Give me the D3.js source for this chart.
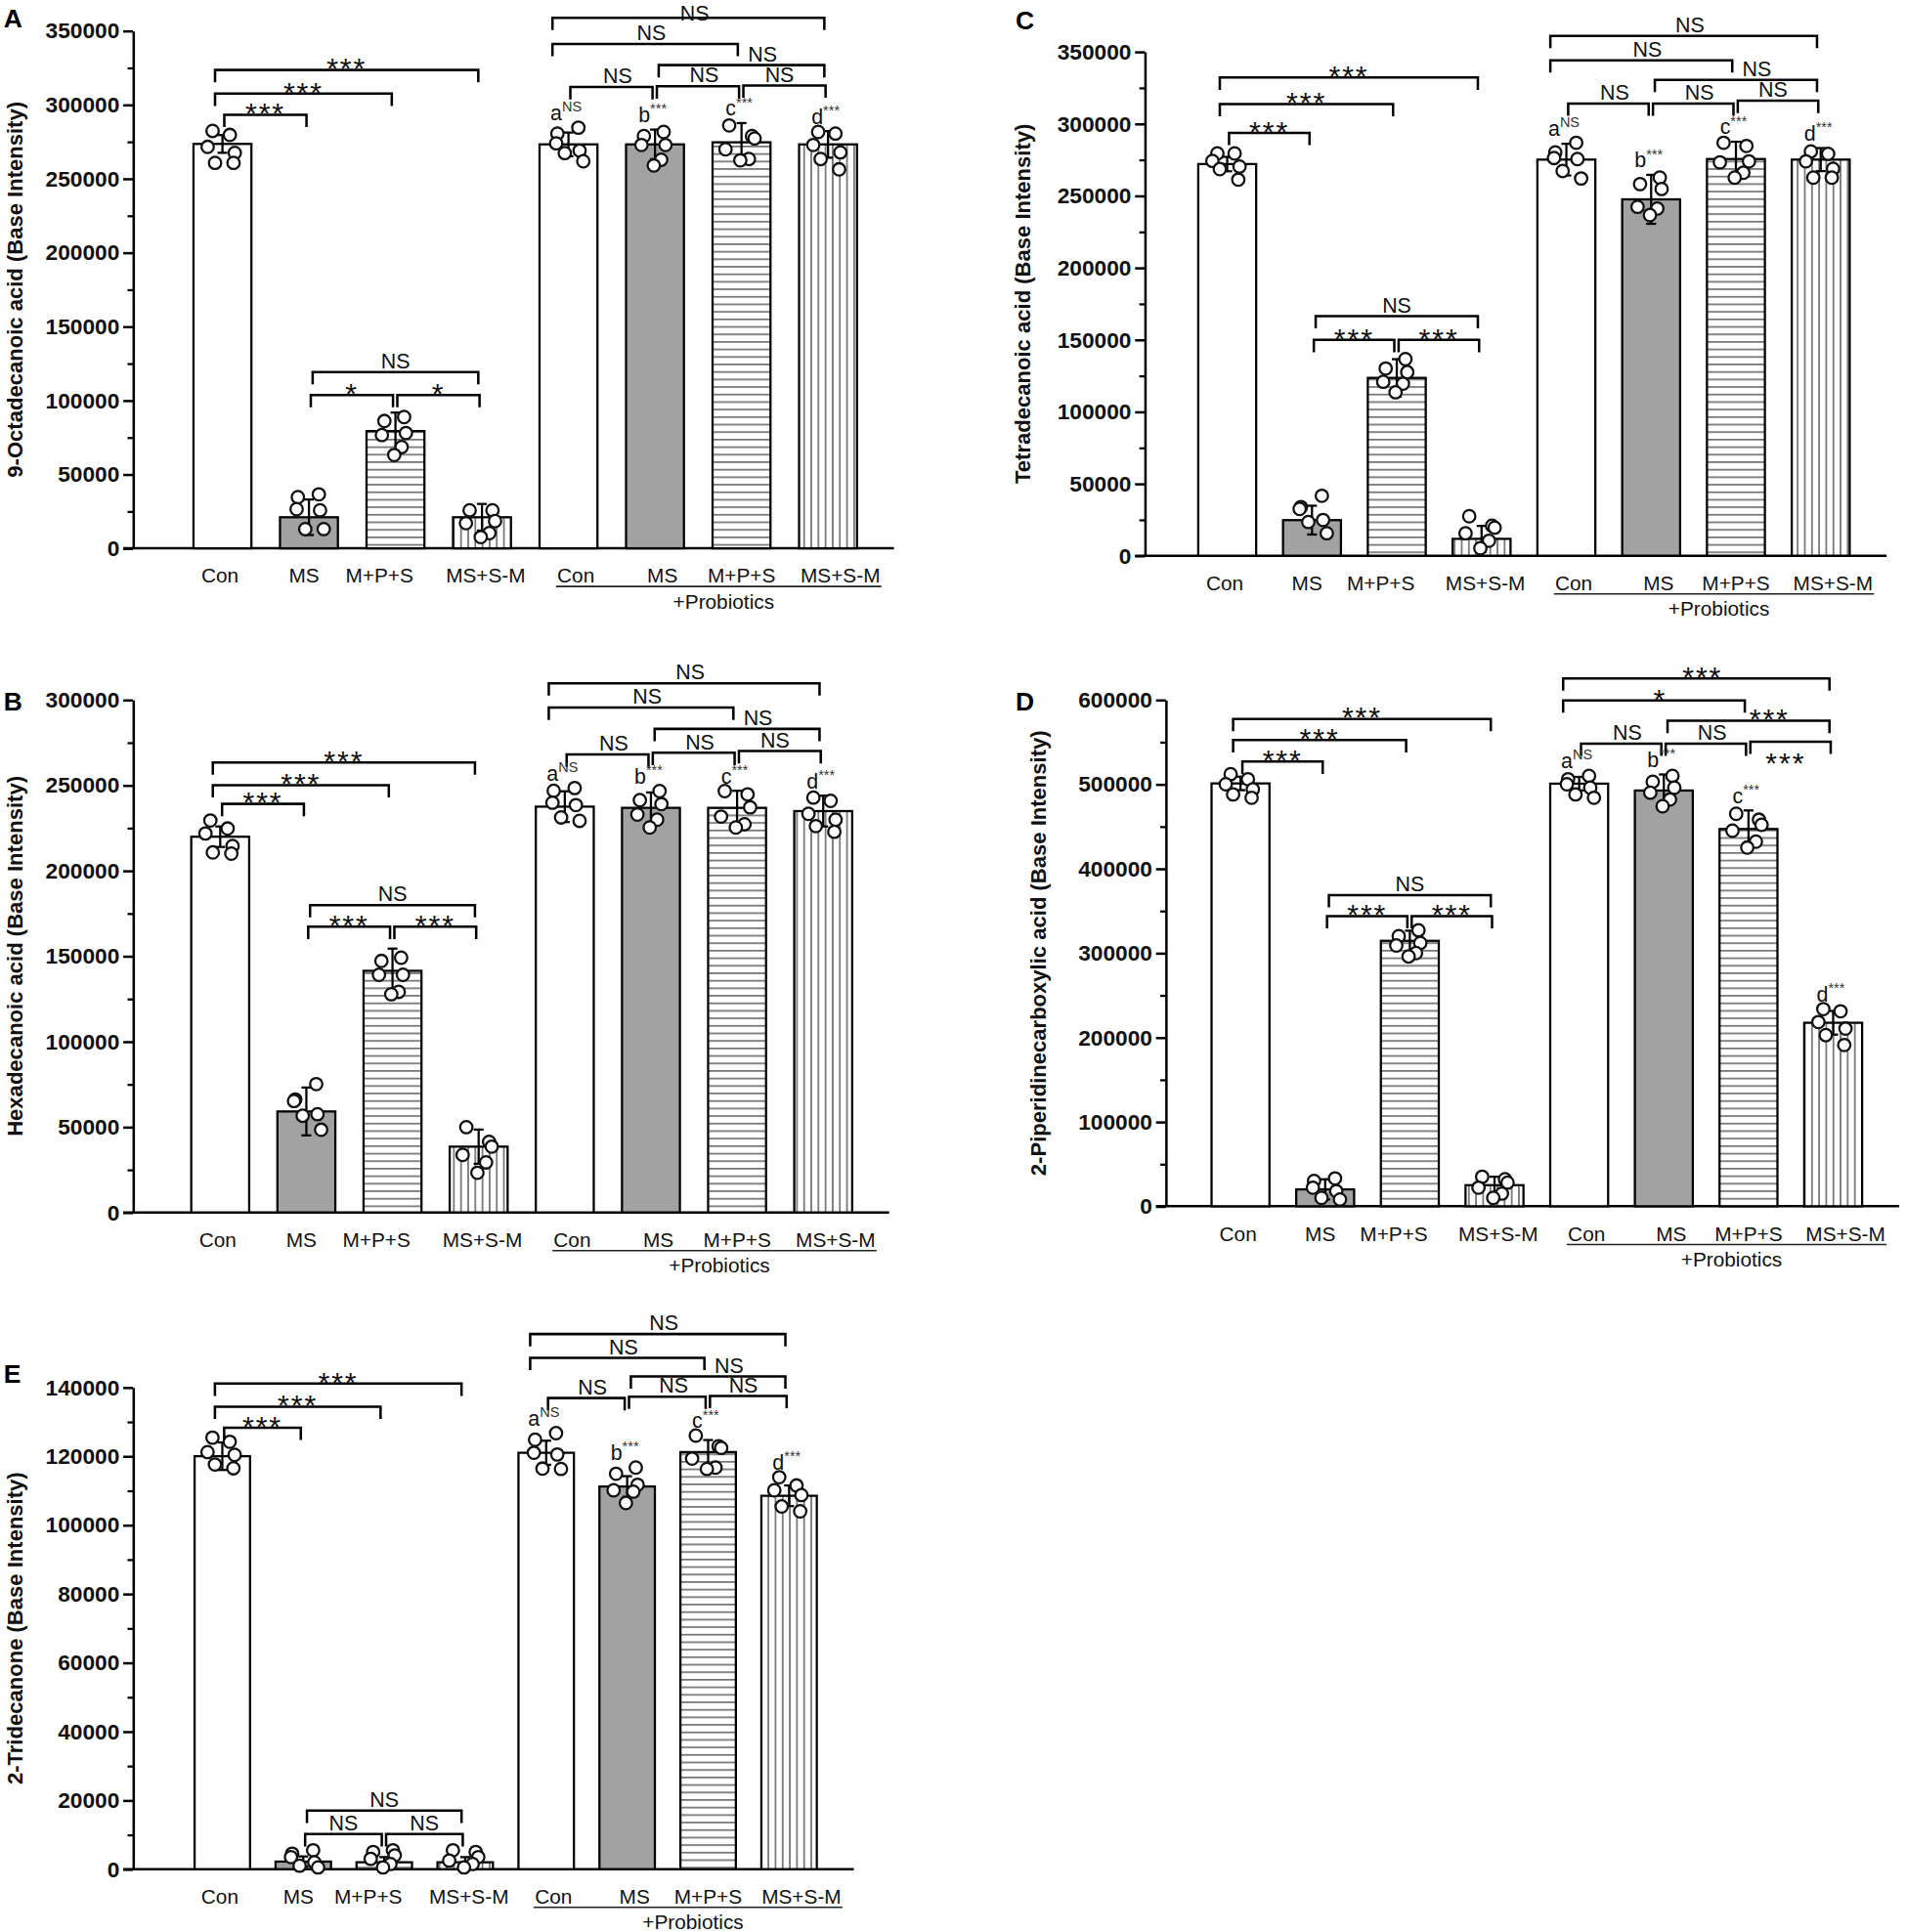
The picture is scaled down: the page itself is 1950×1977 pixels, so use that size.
<!DOCTYPE html>
<html><head><meta charset="utf-8">
<script src="https://cdn.jsdelivr.net/npm/d3@7"></script>
<style>
html,body{margin:0;padding:0;background:#fff;}
svg{display:block;}
</style></head><body>
<script>
// ================= DATA =================
const categories = ["Con","MS","M+P+S","MS+S-M","Con+Pro","MS+Pro","M+P+S+Pro","MS+S-M+Pro"];
const categoryLabels = ["Con","MS","M+P+S","MS+S-M","Con","MS","M+P+S","MS+S-M"];
const groupLabel = "+Probiotics";
const letterLabels = ["a","b","c","d"];
const letterSig = ["NS","***","***","***"];

// Panel A
const titleA = "9-Octadecanoic acid (Base Intensity)";
const ticksA = [0,50000,100000,150000,200000,250000,300000,350000];
const meansA = [273500,21000,79300,21000,273200,273200,274600,273200];
const sdA = [6000,12000,12500,9000,8000,10000,13000,9000];
const pointsA = [
  [282300,279600,271500,267400,260700,260700],
  [36500,34600,26500,25700,13000,13000],
  [88800,86100,78000,76600,68500,63100],
  [25700,25700,18400,17000,10300,7600],
  [284500,280500,273900,269000,267300,261800],
  [281600,278800,272800,272800,262800,258900],
  [286000,278800,277200,269900,263300,262400],
  [281600,280500,272800,267800,263300,256300]];
const bracketsA = [
  {a:0,b:1,v:293200,t:"***"},{a:0,b:2,v:307500,t:"***"},{a:0,b:3,v:323500,t:"***"},
  {a:1,b:3,v:119200,t:"NS"},{a:1,b:2,v:103700,t:"*"},{a:2,b:3,v:103700,t:"*"},
  {a:4,b:7,v:358800,t:"NS"},{a:4,b:6,v:341100,t:"NS"},{a:5,b:7,v:326800,t:"NS"},
  {a:4,b:5,v:312000,t:"NS"},{a:5,b:6,v:312500,t:"NS"},{a:6,b:7,v:313000,t:"NS"}];

// Panel B
const titleB = "Hexadecanoic acid (Base Intensity)";
const ticksB = [0,50000,100000,150000,200000,250000,300000];
const meansB = [219900,59100,141400,38500,237500,236800,236800,234900];
const sdB = [6000,14000,13000,10000,9000,9000,10000,9000];
const pointsB = [
  [229400,224700,221800,214500,210700,210000],
  [75100,66100,65200,57500,56600,48400],
  [149100,147200,139100,139100,129100,127700],
  [49900,41300,38500,33700,29300,23200],
  [248400,246800,239800,238400,231200,229200],
  [246600,241300,239000,232900,229900,225300],
  [246600,244700,237100,231700,227200,225300],
  [242800,240900,233300,229900,226100,222800]];
const bracketsB = [
  {a:0,b:1,v:239100,t:"***"},{a:0,b:2,v:250100,t:"***"},{a:0,b:3,v:263400,t:"***"},
  {a:1,b:3,v:179900,t:"NS"},{a:1,b:2,v:167200,t:"***"},{a:2,b:3,v:167200,t:"***"},
  {a:4,b:7,v:309700,t:"NS"},{a:4,b:6,v:295500,t:"NS"},{a:5,b:7,v:283000,t:"NS"},
  {a:4,b:5,v:268000,t:"NS"},{a:5,b:6,v:269000,t:"NS"},{a:6,b:7,v:270000,t:"NS"}];

// Panel C
const titleC = "Tetradecanoic acid (Base Intensity)";
const ticksC = [0,50000,100000,150000,200000,250000,300000,350000];
const meansC = [272000,24700,123500,11700,275100,247500,275500,275100];
const sdC = [5000,10000,13000,9000,11000,17000,12000,8000];
const pointsC = [
  [279400,279400,274200,270300,268500,261200],
  [41600,33800,32500,24800,23400,15600],
  [136500,130000,127500,120800,119500,113500],
  [27400,20800,19500,15600,10400,5200],
  [286800,280100,276200,275500,267200,262000],
  [262600,258100,254700,242300,241100,236600],
  [286800,284600,273900,273200,266000,262600],
  [280800,279100,273900,268700,262600,262600]];
const bracketsC = [
  {a:0,b:1,v:293700,t:"***"},{a:0,b:2,v:313700,t:"***"},{a:0,b:3,v:332100,t:"***"},
  {a:1,b:3,v:166400,t:"NS"},{a:1,b:2,v:149900,t:"***"},{a:2,b:3,v:149900,t:"***"},
  {a:4,b:7,v:361000,t:"NS"},{a:4,b:6,v:344100,t:"NS"},{a:5,b:7,v:330500,t:"NS"},
  {a:4,b:5,v:314000,t:"NS"},{a:5,b:6,v:314000,t:"NS"},{a:6,b:7,v:316000,t:"NS"}];

// Panel D
const titleD = "2-Piperidinecarboxylic acid (Base Intensity)";
const ticksD = [0,100000,200000,300000,400000,500000,600000];
const meansD = [501000,20000,314500,25000,500700,492600,447000,217400];
const sdD = [8000,12000,12000,10000,8000,19000,22000,14000];
const pointsD = [
  [512000,506000,500000,494000,488000,484000],
  [33000,30000,22000,18000,10000,8000],
  [327000,320000,312000,309000,300000,296000],
  [35000,32000,28000,22000,15000,10000],
  [510000,506000,500000,496000,488000,484000],
  [510000,503000,496000,490000,482000,474000],
  [465000,458000,452000,445000,432000,425000],
  [233600,231000,218300,210500,202800,191100]];
const bracketsD = [
  {a:0,b:1,v:526900,t:"***"},{a:0,b:2,v:552300,t:"***"},{a:0,b:3,v:577400,t:"***"},
  {a:1,b:3,v:368600,t:"NS"},{a:1,b:2,v:343800,t:"***"},{a:2,b:3,v:343800,t:"***"},
  {a:4,b:7,v:625400,t:"***"},{a:4,b:6,v:599300,t:"*"},{a:5,b:7,v:575200,t:"***"},
  {a:4,b:5,v:548200,t:"NS"},{a:5,b:6,v:548200,t:"NS"},{a:6,b:7,v:550400,t:"***",below:true}];

// Panel E
const titleE = "2-Tridecanone (Base Intensity)";
const ticksE = [0,20000,40000,60000,80000,100000,120000,140000];
const meansE = [120000,2200,2000,2000,121000,111200,121200,108500];
const sdE = [4000,1500,1500,1500,3500,3000,3500,3000];
const pointsE = [
  [125400,124200,121200,120400,117600,116500],
  [5500,4500,3500,2000,1000,500],
  [5500,5000,4000,3000,1500,500],
  [5500,5000,3500,2500,1500,500],
  [126700,124800,121000,120500,116400,116300],
  [116700,114900,111700,110100,109700,106400],
  [126000,122900,122400,119300,116700,116300],
  [113900,111500,110100,108700,105400,104000]];
const bracketsE = [
  {a:0,b:1,v:128300,t:"***"},{a:0,b:2,v:134400,t:"***"},{a:0,b:3,v:141100,t:"***"},
  {a:1,b:3,v:17000,t:"NS"},{a:1,b:2,v:10200,t:"NS"},{a:2,b:3,v:10200,t:"NS"},
  {a:4,b:7,v:155500,t:"NS"},{a:4,b:6,v:148600,t:"NS"},{a:5,b:7,v:143200,t:"NS"},
  {a:4,b:5,v:136900,t:"NS"},{a:5,b:6,v:137300,t:"NS"},{a:6,b:7,v:137500,t:"NS"}];

// ================= LAYOUT =================
const VW = 1546.6, VH = 1568;
const FONT = '"Liberation Sans", Arial, Helvetica, sans-serif';
const panels = [
  {letter:"A", title:titleA, ticks:ticksA, means:meansA, sd:sdA, points:pointsA, brackets:bracketsA,
   x0:108, y0:445, yTop:25, c0:180.5, step:70.2, barW:47, lx:3, ly:22, tx:18},
  {letter:"B", title:titleB, ticks:ticksB, means:meansB, sd:sdB, points:pointsB, brackets:bracketsB,
   x0:108, y0:984, yTop:568, c0:178.7, step:69.9, barW:47, lx:3, ly:577, tx:18},
  {letter:"C", title:titleC, ticks:ticksC, means:meansC, sd:sdC, points:pointsC, brackets:bracketsC,
   x0:929, y0:451, yTop:42, c0:995.8, step:68.8, barW:47, lx:824, ly:24, tx:836},
  {letter:"D", title:titleD, ticks:ticksD, means:meansD, sd:sdD, points:pointsD, brackets:bracketsD,
   x0:946, y0:979, yTop:568, c0:1006.6, step:68.7, barW:47, lx:824, ly:577, tx:849},
  {letter:"E", title:titleE, ticks:ticksE, means:meansE, sd:sdE, points:pointsE, brackets:bracketsE,
   x0:108, y0:1517, yTop:1126, c0:180.4, step:65.7, barW:45, lx:3, ly:1122, tx:18}
];
const labelOffset = [-2,-4,-13,3,6,6,0,10];
const jitter = [[-8,6,-12,10,-6,9],[8,-9,-10,9,-3,12],[7,-9,8.5,-11,5,-1],[-10,8.5,10.6,-13,6,-1]];

const svg = d3.select("body").append("svg")
  .attr("width",1950).attr("height",1977)
  .attr("viewBox",`0 0 ${VW} ${VH}`)
  .style("font-family",FONT);
svg.append("rect").attr("width",VW).attr("height",VH).attr("fill","#fff");

const defs = svg.append("defs");
const ph = defs.append("pattern").attr("id","hs").attr("patternUnits","userSpaceOnUse").attr("width",10).attr("height",6.1);
ph.append("rect").attr("width",10).attr("height",6.1).attr("fill","#fff");
ph.append("line").attr("x1",0).attr("x2",10).attr("y1",3).attr("y2",3).attr("stroke","#2a2a2a").attr("stroke-width",0.9);
const pv = defs.append("pattern").attr("id","vs").attr("patternUnits","userSpaceOnUse").attr("width",5.8).attr("height",10);
pv.append("rect").attr("width",5.8).attr("height",10).attr("fill","#fff");
pv.append("line").attr("x1",2.9).attr("x2",2.9).attr("y1",0).attr("y2",10).attr("stroke","#2a2a2a").attr("stroke-width",0.9);
const barFill = ["#ffffff","#a2a2a2","url(#hs)","url(#vs)"];

function drawPanel(p){
  const g = svg.append("g");
  const yMax = p.ticks[p.ticks.length-1];
  const y = d3.scaleLinear().domain([0,yMax]).range([p.y0,p.yTop]);
  const x = d3.scalePoint().domain(categories).range([p.c0, p.c0 + 7*p.step]);

  // y axis (major)
  const ga = g.append("g").attr("transform",`translate(${p.x0},0)`)
    .call(d3.axisLeft(y).tickValues(p.ticks).tickSize(8).tickSizeOuter(0).tickPadding(3).tickFormat(d3.format("d")));
  ga.select(".domain").attr("stroke","#000").attr("stroke-width",2);
  ga.selectAll(".tick line").attr("stroke","#000").attr("stroke-width",2);
  ga.selectAll(".tick text").attr("font-family",FONT).attr("font-size",18).attr("font-weight","bold").attr("fill","#111");
  // minor ticks
  const minor = d3.pairs(p.ticks).map(([a,b])=>(a+b)/2);
  const gm = g.append("g").attr("transform",`translate(${p.x0},0)`)
    .call(d3.axisLeft(y).tickValues(minor).tickSize(4.5).tickFormat(""));
  gm.select(".domain").remove();
  gm.selectAll(".tick line").attr("stroke","#000").attr("stroke-width",1.8);

  // x axis line
  const xEnd = x(categories[7]) + p.barW/2 + 30;
  g.append("line").attr("x1",p.x0-8).attr("x2",xEnd).attr("y1",y(0)).attr("y2",y(0))
    .attr("stroke","#000").attr("stroke-width",2);

  // bars
  g.selectAll("rect.bar").data(categories).join("rect").attr("class","bar")
    .attr("x",c=>x(c)-p.barW/2).attr("width",p.barW)
    .attr("y",(c,i)=>y(p.means[i])).attr("height",(c,i)=>y(0)-y(p.means[i]))
    .attr("fill",(c,i)=>barFill[i%4]).attr("stroke","#000").attr("stroke-width",1.8);

  // error bars
  categories.forEach((c,i)=>{
    const cx = x(c), yt = y(p.means[i]+p.sd[i]), yb = y(Math.max(0,p.means[i]-p.sd[i]));
    const eg = g.append("g").attr("stroke","#000").attr("stroke-width",1.8);
    eg.append("line").attr("x1",cx).attr("x2",cx).attr("y1",yt).attr("y2",yb);
    eg.append("line").attr("x1",cx-4).attr("x2",cx+4).attr("y1",yt).attr("y2",yt);
    eg.append("line").attr("x1",cx-4).attr("x2",cx+4).attr("y1",yb).attr("y2",yb);
  });

  // points
  categories.forEach((c,i)=>{
    const jp = jitter[(i + (i>=4?1:0)) % 4];
    g.selectAll(null).data(p.points[i]).join("circle")
      .attr("cx",(v,k)=>x(c)+jp[k]).attr("cy",v=>y(v)).attr("r",5)
      .attr("fill","#fff").attr("stroke","#111").attr("stroke-width",1.8);
  });

  // brackets
  p.brackets.forEach(br=>{
    const span = br.b - br.a;
    let x1, x2;
    if (span === 1){ x1 = x(categories[br.a]) + 1.5; x2 = x(categories[br.b]) - 2; }
    else {
      x1 = x(categories[br.a]) + (br.a===0 ? -6 : br.a===4 ? -13 : 3);
      x2 = x(categories[br.b]) - 3;
    }
    const yb = y(br.v);
    g.append("path").attr("d",`M${x1},${yb+10}V${yb}H${x2}V${yb+10}`)
      .attr("fill","none").attr("stroke","#000").attr("stroke-width",2);
    let dx = 0;
    if (br.a >= 4){
      if (br.a===5 && br.b===7) dx = 17;
      else if (br.a===6 && br.b===7) dx = -4;
      else dx = 5;
    }
    const isStar = br.t.indexOf("*") >= 0;
    let ty;
    if (br.below) ty = yb + 25;
    else ty = isStar ? yb + 7 : yb - 3;
    ty = Math.max(ty, 16.5);
    g.append("text").attr("x",(x1+x2)/2+dx).attr("y",ty).attr("text-anchor","middle")
      .attr("font-size",isStar?24:17).attr("letter-spacing",isStar?1.5:0)
      .attr("fill","#111").text(br.t);
  });

  // letters above probiotic bars
  for (let i=4;i<8;i++){
    const topV = Math.max(d3.max(p.points[i]), p.means[i]+p.sd[i]);
    const t = g.append("text").attr("x",x(categories[i])-2).attr("y",y(topV)-6)
      .attr("text-anchor","middle").attr("fill","#111");
    t.append("tspan").attr("font-size",17).text(letterLabels[i-4]);
    t.append("tspan").attr("font-size",11.5).attr("dy",-7).attr("fill","#333").text(letterSig[i-4]);
  }

  // x labels
  const lbl = g.selectAll("text.xl").data(categories).join("text").attr("class","xl")
    .attr("x",(c,i)=>x(c)+labelOffset[i]).attr("y",y(0)+28)
    .attr("text-anchor","middle").attr("font-size",16.5).attr("fill","#111")
    .text((c,i)=>categoryLabels[i]);
  const bb1 = lbl.nodes()[4].getBBox(), bb2 = lbl.nodes()[7].getBBox();
  const ux1 = bb1.x - 1, ux2 = bb2.x + bb2.width + 1;
  g.append("line").attr("x1",ux1).attr("x2",ux2).attr("y1",y(0)+31).attr("y2",y(0)+31)
    .attr("stroke","#222").attr("stroke-width",1.3);
  g.append("text").attr("x",(ux1+ux2)/2+4).attr("y",y(0)+49).attr("text-anchor","middle")
    .attr("font-size",16.5).attr("fill","#111").text(groupLabel);

  // y title
  g.append("text").attr("transform",`translate(${p.tx},${(p.y0+p.yTop)/2}) rotate(-90)`)
    .attr("text-anchor","middle").attr("font-size",17.5).attr("font-weight","bold").attr("fill","#111")
    .text(p.title);
  // panel letter
  g.append("text").attr("x",p.lx).attr("y",p.ly).attr("font-size",21).attr("font-weight","bold")
    .attr("fill","#000").text(p.letter);
}
panels.forEach(drawPanel);
</script>
</body></html>
